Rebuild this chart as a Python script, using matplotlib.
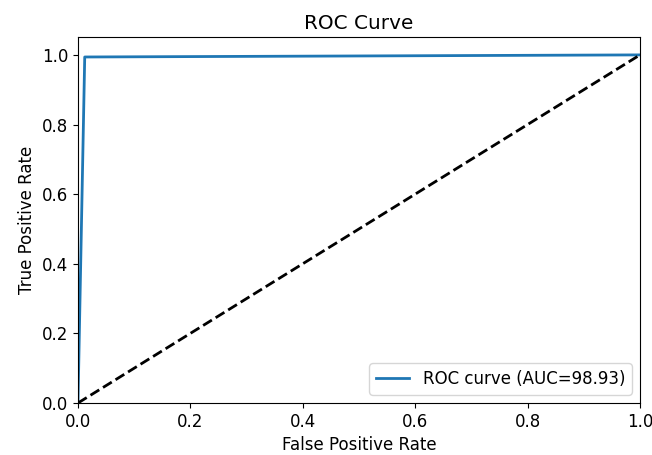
import matplotlib
matplotlib.use('Agg')
import matplotlib.pyplot as plt

# roc points
fpr = [0.0, 0.012, 1.0]
tpr = [0.0, 0.994, 1.0]
auc_label = 'ROC curve (AUC=98.93)'

plt.rcParams['font.size'] = 12

fig = plt.figure(figsize=(6.52, 4.55), dpi=100)
ax = fig.add_axes([0.1196, 0.1143, 0.862, 0.8033])
ax.plot(fpr, tpr, color='#1f77b4', lw=2, label=auc_label)
ax.plot([0, 1], [0, 1], 'k--', lw=2)
ax.set_xlim(0, 1)
ax.set_ylim(0, 1.05)
ax.set_xlabel('False Positive Rate')
ax.set_ylabel('True Positive Rate')
ax.set_title('ROC Curve')
ax.legend(loc='lower right')
fig.savefig('out.png', dpi=100)
